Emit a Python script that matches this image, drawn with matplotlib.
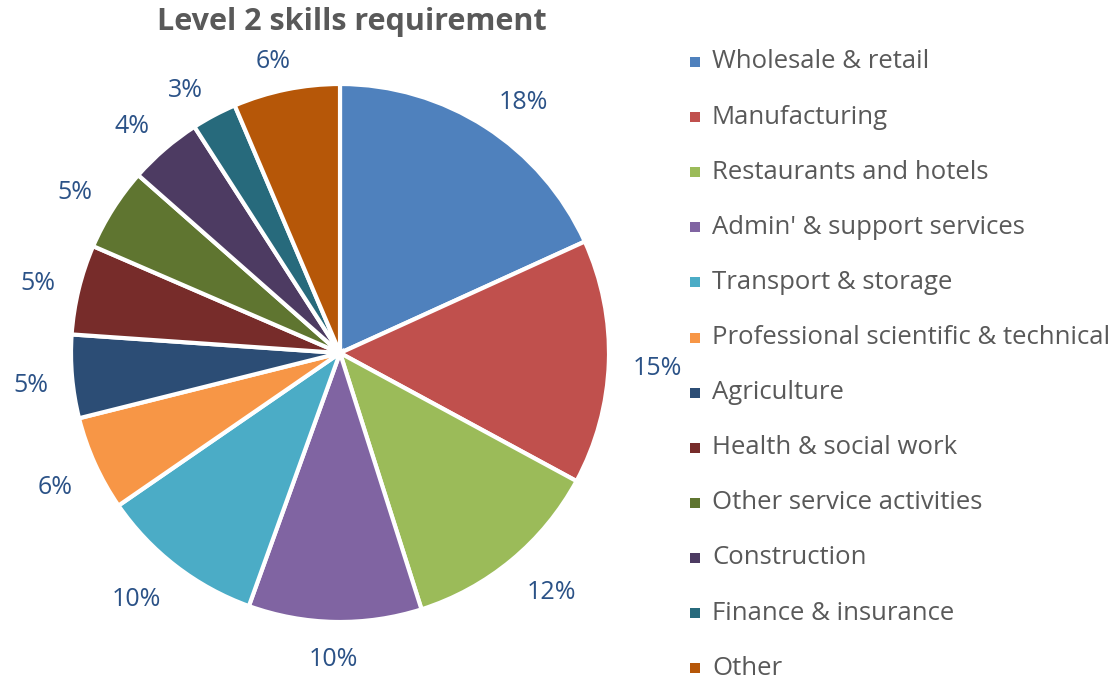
import matplotlib
matplotlib.use("Agg")
import matplotlib.pyplot as plt
import numpy as np
from matplotlib.patches import Rectangle

categories = ["Wholesale & retail", "Manufacturing", "Restaurants and hotels",
              "Admin' & support services", "Transport & storage",
              "Professional scientific & technical", "Agriculture",
              "Health & social work", "Other service activities",
              "Construction", "Finance & insurance", "Other"]
values = [18.2, 14.7, 12.2, 10.4, 9.9, 5.7, 5.0, 5.4, 5.0, 4.4, 2.7, 6.4]
colors = ["#4F81BD", "#C0504D", "#9BBB59", "#8064A2", "#4BACC6", "#F79646",
          "#2C4D75", "#772C2A", "#5F7530", "#4D3B62", "#276A7C", "#B65708"]
title = "Level 2 skills requirement"

plt.rcParams['font.family'] = ['Open Sans', 'DejaVu Sans']

W, H = 1113, 681
CX, CY, R = 340, H - 353, 269
fig = plt.figure(figsize=(W / 100, H / 100), dpi=100)
ax = fig.add_axes([0, 0, 1, 1])

wedges, texts, autotexts = ax.pie(
    values, colors=colors, center=(CX, CY), radius=R,
    startangle=90, counterclock=False, frame=True,
    autopct=lambda p: f"{p:.0f}%", pctdistance=1.17,
    wedgeprops=dict(edgecolor="white", linewidth=3),
    textprops=dict(color="#2B5287", fontsize=18))
ax.set_xlim(0, W)
ax.set_ylim(0, H)
ax.set_aspect('equal')
ax.axis('off')

# place labels "outside end": label box corner just outside the rim
fig.canvas.draw()
renderer = fig.canvas.get_renderer()
gap = 24
for w, t in zip(wedges, autotexts):
    ang = np.deg2rad((w.theta1 + w.theta2) / 2)
    ux, uy = np.cos(ang), np.sin(ang)
    bb = t.get_window_extent(renderer)
    hw, hh = bb.width / 2, bb.height / 2 * 0.72
    d = R + gap
    x = CX + d * ux + hw * np.clip(2.5 * ux, -1, 1)
    y = CY + d * uy + hh * np.clip(2.5 * uy, -1, 1) - 5
    t.set_position((x, y))
    t.set_ha("center")
    t.set_va("center")

ax.text(352, H - 22, title, ha="center", va="center", fontsize=22,
        fontweight="bold", color="#595959")

for i, (lab, c) in enumerate(zip(categories, colors)):
    y = H - (62 + 55.1 * i)
    ax.add_patch(Rectangle((690, y - 5), 10, 10, facecolor=c, edgecolor="none"))
    ax.text(712, y, lab, ha="left", va="center", fontsize=18.5, color="#595959")

fig.savefig("out.png", dpi=100)
